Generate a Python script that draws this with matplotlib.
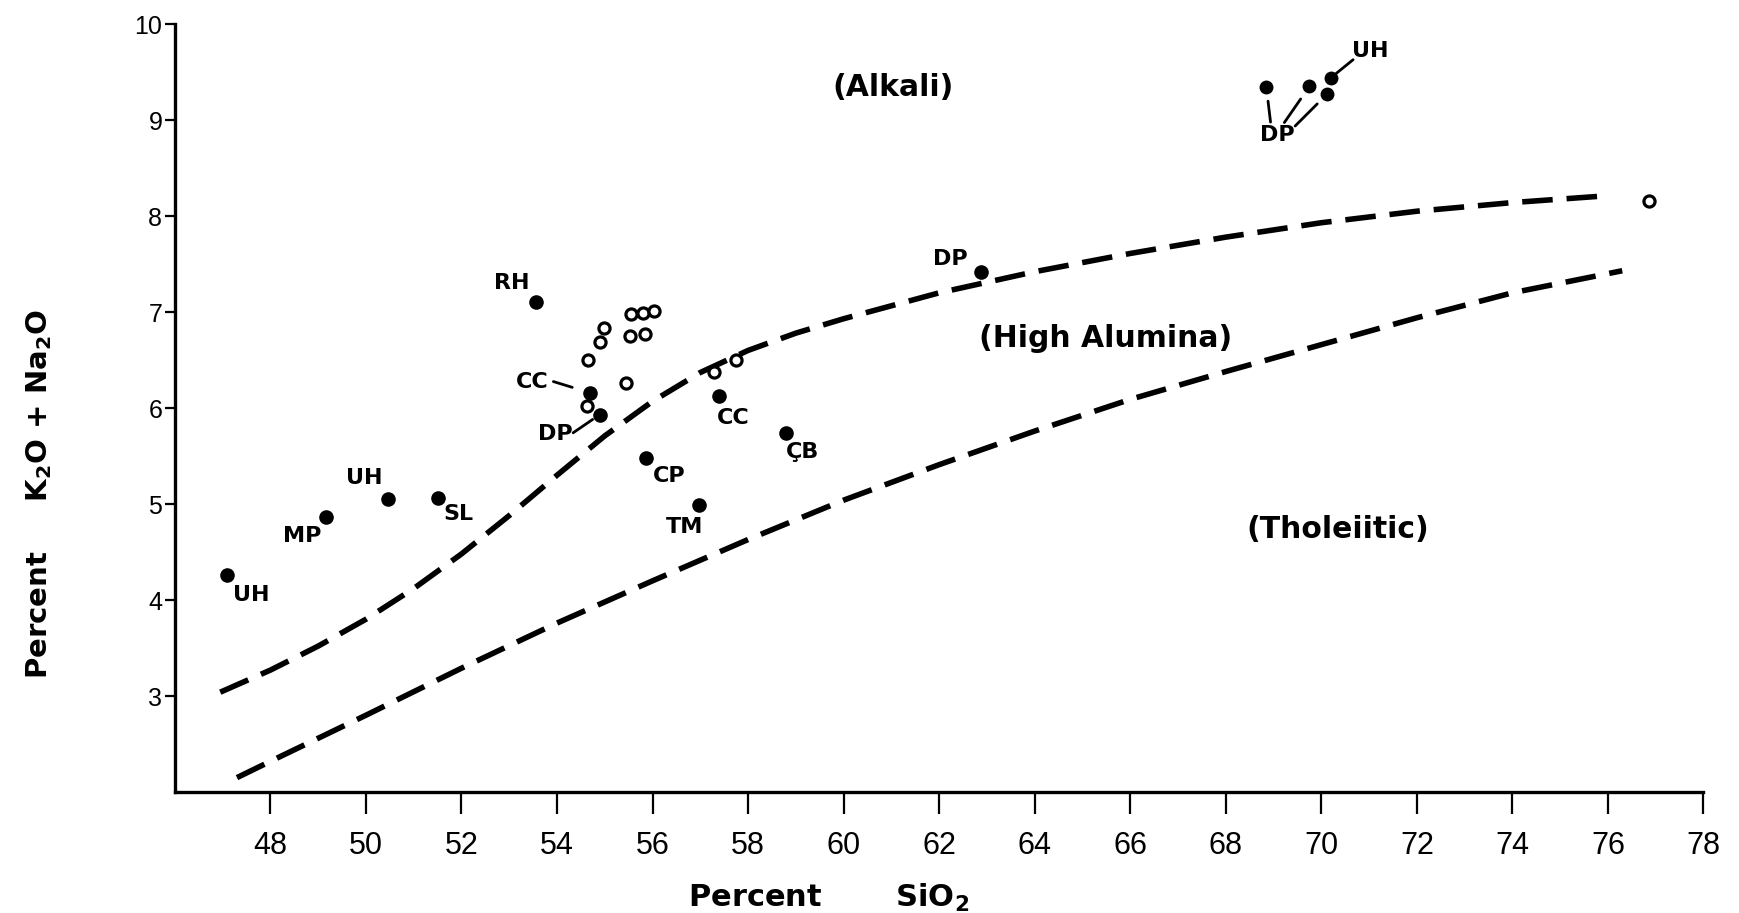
import matplotlib
matplotlib.use("Agg")
import matplotlib.pyplot as plt
from matplotlib import font_manager

# fonts: narrow one for the x tick numbers if it exists
names = {f.name for f in font_manager.fontManager.ttflist}
narrow = 'Liberation Sans Narrow' if 'Liberation Sans Narrow' in names else 'Liberation Sans'
plt.rcParams['mathtext.default'] = 'regular'

# boundary curves
upper_x = [46.95, 48, 49, 50, 51, 52, 53, 54, 55, 56, 57, 58, 59, 60,
           62, 64, 66, 68, 70, 72, 74, 75.95]
upper_y = [3.04, 3.27, 3.52, 3.80, 4.12, 4.48, 4.88, 5.30, 5.71, 6.07, 6.37, 6.60, 6.78, 6.93,
           7.20, 7.42, 7.61, 7.78, 7.93, 8.05, 8.14, 8.21]

lower_x = [47.3, 48, 50, 52, 54, 56, 58, 60, 62, 64, 66, 68, 70, 72, 74, 76.3]
lower_y = [2.15, 2.32, 2.80, 3.29, 3.76, 4.20, 4.63, 5.04, 5.41, 5.76, 6.09, 6.38, 6.66, 6.94, 7.20, 7.43]

# labelled filled points
filled_lbl = ['UH', 'MP', 'UH', 'SL', 'RH', 'CC', 'DP', 'CP', 'TM', 'CC', 'ÇB', 'DP']
filled_x = [47.10, 49.17, 50.46, 51.50, 53.57, 54.68, 54.89, 55.86, 56.98, 57.39, 58.79, 62.87]
filled_y = [4.26, 4.87, 5.05, 5.06, 7.10, 6.16, 5.93, 5.48, 4.99, 6.13, 5.74, 7.42]
# label offsets (points) and the leader lines (start offset, gap at the dot)
lbl_off = [(17, -14), (-17, -14), (-17, 15), (15, -11), (-18, 14), (-41, 8),
           (-32, -14), (17, -13), (-11, -16), (10, -16), (12, -14), (-22, 9)]
leader = [None, None, None, None, None, ((-26, 8), 13), ((-19, -13), 6),
          None, None, None, None, None]

# the cluster at high silica
grp_x = [68.85, 69.75, 70.12, 70.20]
grp_y = [9.34, 9.35, 9.27, 9.44]
grp_line = [((3, -25), 10), ((-18, -26), 11), ((-23, -23), 10), ((16, 13), 5)]

# open circles
open_x = [54.65, 54.89, 54.99, 55.54, 55.79, 56.04, 55.52, 55.84, 54.62, 55.45, 57.28, 57.74, 76.87]
open_y = [6.50, 6.69, 6.83, 6.98, 6.99, 7.01, 6.75, 6.77, 6.02, 6.26, 6.37, 6.50, 8.16]

fig = plt.figure(figsize=(17.4, 9.13), dpi=100)
ax = fig.add_axes([0.1005, 0.1325, 0.8785, 0.8412])

ax.plot(upper_x, upper_y, color='black', lw=4, dashes=(5.5, 2.5))
ax.plot(lower_x, lower_y, color='black', lw=4, dashes=(5.5, 2.5))

ax.plot(filled_x, filled_y, 'o', color='black', ms=10.5, mew=0)
ax.plot(grp_x, grp_y, 'o', color='black', ms=10, mew=0)
ax.plot(open_x, open_y, 'o', mfc='white', mec='black', ms=8, mew=2.3)

lab = dict(fontsize=16, fontweight='bold', family='DejaVu Sans', ha='center', va='center')
for x, y, t, off, ld in zip(filled_x, filled_y, filled_lbl, lbl_off, leader):
    ax.annotate(t, (x, y), xytext=off, textcoords='offset points', **lab)
    if ld:
        ax.annotate('', (x, y), xytext=ld[0], textcoords='offset points',
                    arrowprops=dict(arrowstyle='-', lw=2, shrinkA=0, shrinkB=ld[1]))

for x, y, ld in zip(grp_x, grp_y, grp_line):
    ax.annotate('', (x, y), xytext=ld[0], textcoords='offset points',
                arrowprops=dict(arrowstyle='-', lw=2, shrinkA=0, shrinkB=ld[1]))
ax.annotate('DP', (grp_x[0], grp_y[0]), xytext=(8, -34), textcoords='offset points', **lab)
ax.annotate('UH', (grp_x[3], grp_y[3]), xytext=(28, 19), textcoords='offset points', **lab)

reg = dict(fontsize=21.5, fontweight='bold', family='DejaVu Sans', ha='center', va='center')
ax.text(61.03, 9.34, '(Alkali)', **reg)
ax.text(65.48, 6.72, '(High Alumina)', **reg)
ax.text(70.35, 4.73, '(Tholeiitic)', **reg)

ax.set_xlim(46, 78)
ax.set_ylim(2.0, 10.0)
ax.set_xticks(range(48, 79, 2))
ax.set_yticks(range(3, 11))
for s in ['top', 'right']:
    ax.spines[s].set_visible(False)
for s in ['left', 'bottom']:
    ax.spines[s].set_linewidth(2.4)
ax.tick_params(axis='x', direction='out', length=16, width=1.6, pad=12)
ax.tick_params(axis='y', direction='out', length=7, width=1.6, pad=2)
for t in ax.get_xticklabels():
    t.set_family(narrow)
    t.set_fontsize(22)
for t in ax.get_yticklabels():
    t.set_family('Liberation Sans')
    t.set_fontsize(18)

ax.set_xlabel('Percent       SiO$_2$', fontsize=22, fontweight='bold', family='DejaVu Sans')
ax.xaxis.label.set_va('center')
ax.xaxis.set_label_coords(0.428, -0.138)
ax.set_ylabel('Percent     K$_2$O + Na$_2$O', fontsize=21, fontweight='bold', family='DejaVu Sans')
ax.yaxis.set_label_coords(-0.079, 0.388)

fig.savefig('out.png', dpi=100)
